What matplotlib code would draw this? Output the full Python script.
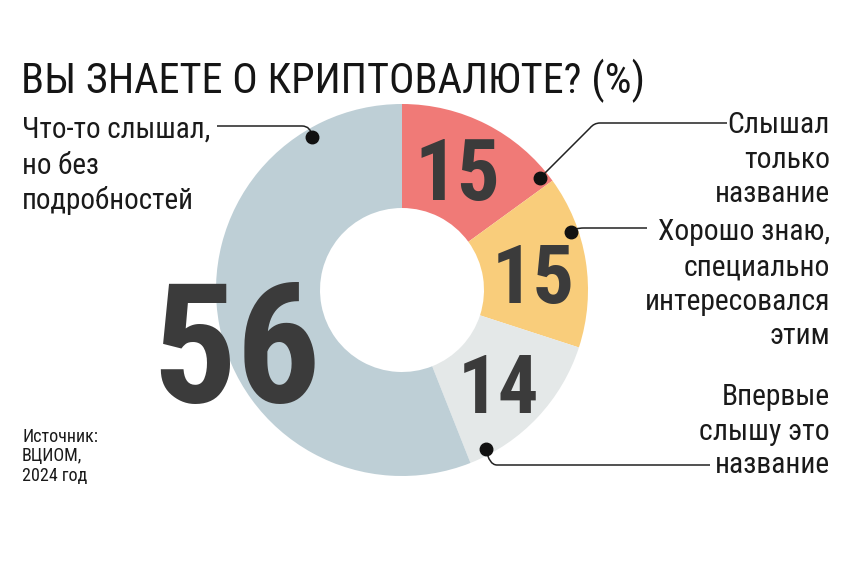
import matplotlib
matplotlib.use('Agg')
import matplotlib.pyplot as plt
from matplotlib.path import Path
from matplotlib.patches import PathPatch

# данные
values = [15, 15, 14, 56]
value_labels = ['15', '15', '14', '56']
colors = ['#F07A77', '#F9CD7B', '#E4E8E8', '#BECFD6']
labels_right = [
    ['Слышал', 'только', 'название'],
    ['Хорошо знаю,', 'специально', 'интересовался', 'этим'],
    ['Впервые', 'слышу это', 'название'],
]
labels_left = ['Что-то слышал,', 'но без', 'подробностей']
source = ['Источник:', 'ВЦИОМ,', '2024 год']
title = 'ВЫ ЗНАЕТЕ О КРИПТОВАЛЮТЕ? (%)'

fam = ['Roboto Condensed', 'DejaVu Sans']

fig = plt.figure(figsize=(8.68, 5.76), dpi=100)
ax = fig.add_axes([0, 0, 1, 1])

cx, cy, R, r = 402, 290, 186, 82
ax.pie(values, colors=colors, startangle=-90, counterclock=True,
       center=(cx, cy), radius=R,
       wedgeprops=dict(width=R - r, edgecolor='none', linewidth=0))

ax.set_xlim(0, 868)
ax.set_ylim(576, 0)
ax.set_aspect('equal')
ax.axis('off')

# числа в сегментах
num_pos = [(457, 200, 61), (533, 303, 59), (498, 413, 58), (237, 402, 120)]
for (x, y, fs), t in zip(num_pos, value_labels):
    ax.text(x, y, t, ha='center', va='baseline', fontsize=fs,
            fontweight='bold', color='#3b3b3b', family=fam)

ax.text(21, 93, title, fontsize=30.5, color='#151515', family=fam, va='baseline')

txt = '#1a1a1a'
for t, y in zip(labels_left, [138, 174, 209]):
    ax.text(22, y, t, fontsize=21, color=txt, family=fam, va='baseline')

right_y = [[133, 168, 202], [240, 275, 310, 344], [405, 440, 473]]
for lines, ys in zip(labels_right, right_y):
    for t, y in zip(lines, ys):
        ax.text(830, y, t, fontsize=21.3, color=txt, family=fam,
                ha='right', va='baseline')

for t, y in zip(source, [442, 461, 481]):
    ax.text(22, y, t, fontsize=13, color=txt, family=fam, va='baseline')

# выноски
C3 = Path.CURVE3
leaders = [
    ([(217, 126), (302, 126), (311, 126), (312, 137)], [Path.MOVETO, Path.LINETO, C3, C3]),
    ([(727, 123), (600, 123), (594, 123), (590, 128), (540, 178)], [Path.MOVETO, Path.LINETO, C3, C3, Path.LINETO]),
    ([(647, 228), (584, 228), (574, 228), (571, 232)], [Path.MOVETO, Path.LINETO, C3, C3]),
    ([(710, 465), (497, 465), (489, 465), (486, 449)], [Path.MOVETO, Path.LINETO, C3, C3]),
]
for pts, codes in leaders:
    ax.add_patch(PathPatch(Path(pts, codes), fill=False, lw=1.1, edgecolor='#222222'))
    ax.plot(*pts[-1], 'o', ms=9, color='#111111')

fig.savefig('out.png', dpi=100)
